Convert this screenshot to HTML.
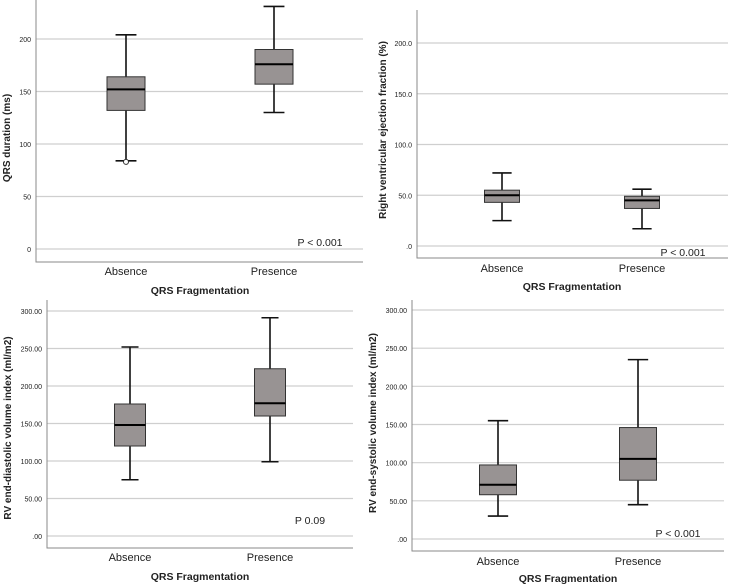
<!DOCTYPE html>
<html><head><meta charset="utf-8"><style>
html,body{margin:0;padding:0;background:#fff;width:735px;height:586px;overflow:hidden}
svg{display:block}
text{font-family:"Liberation Sans","DejaVu Sans",sans-serif;fill:#222}
</style></head><body>
<svg id="chart" width="735" height="586"></svg>
<script>
const categories = ["Absence", "Presence"];
const p1Max = [204, 231], p1Q3 = [164, 190], p1Med = [152, 176], p1Q1 = [132, 157], p1Min = [84, 130];
const p1Outliers = [[83], []];
const p1Ticks = [0, 50, 100, 150, 200];
const p1TickLabels = ["0", "50", "100", "150", "200"];
const p2Max = [72, 56], p2Q3 = [55, 49], p2Med = [50, 45], p2Q1 = [43, 37], p2Min = [25, 17];
const p2Ticks = [0, 50, 100, 150, 200];
const p2TickLabels = [".0", "50.0", "100.0", "150.0", "200.0"];
const p3Max = [252, 291], p3Q3 = [176, 223], p3Med = [148, 177], p3Q1 = [120, 160], p3Min = [75, 99];
const p3Ticks = [0, 50, 100, 150, 200, 250, 300];
const p3TickLabels = [".00", "50.00", "100.00", "150.00", "200.00", "250.00", "300.00"];
const p4Max = [155, 235], p4Q3 = [97, 146], p4Med = [71, 105], p4Q1 = [58, 77], p4Min = [30, 45];
const p4Ticks = [0, 50, 100, 150, 200, 250, 300];
const p4TickLabels = [".00", "50.00", "100.00", "150.00", "200.00", "250.00", "300.00"];

const panels = [
 {id:"qrs-duration", ax:{l:36,t:0,r:363,b:262}, y0:249, y1:39, v1:200, cx:[126,274], bw:38,
  mx:p1Max,q3:p1Q3,md:p1Med,q1:p1Q1,mn:p1Min,out:p1Outliers,ticks:p1Ticks,tl:p1TickLabels,
  title:"QRS duration (ms)", tx:6, ty:138, p:"P < 0.001", px:320, py:242, ly:271, xty:290, xtx:200},
 {id:"rv-ejection-fraction", ax:{l:417,t:10,r:728,b:258}, y0:246, y1:43, v1:200, cx:[502,642], bw:35,
  mx:p2Max,q3:p2Q3,md:p2Med,q1:p2Q1,mn:p2Min,out:[[],[]],ticks:p2Ticks,tl:p2TickLabels,
  title:"Right ventricular ejection fraction (%)", tx:382, ty:130, p:"P < 0.001", px:683, py:252, ly:268, xty:286, xtx:572},
 {id:"rv-end-diastolic", ax:{l:47,t:300,r:353,b:548}, y0:536, y1:311, v1:300, cx:[130,270], bw:31,
  mx:p3Max,q3:p3Q3,md:p3Med,q1:p3Q1,mn:p3Min,out:[[],[]],ticks:p3Ticks,tl:p3TickLabels,
  title:"RV end-diastolic volume index (ml/m2)", tx:7, ty:428, p:"P 0.09", px:310, py:520, ly:557, xty:576, xtx:200},
 {id:"rv-end-systolic", ax:{l:412,t:300,r:724,b:551}, y0:539, y1:310, v1:300, cx:[498,638], bw:37,
  mx:p4Max,q3:p4Q3,md:p4Med,q1:p4Q1,mn:p4Min,out:[[],[]],ticks:p4Ticks,tl:p4TickLabels,
  title:"RV end-systolic volume index (ml/m2)", tx:372, ty:423, p:"P < 0.001", px:678, py:533, ly:561, xty:578, xtx:568}
];
const NS="http://www.w3.org/2000/svg";
const svg=document.getElementById("chart");
function mk(tag,attrs,parent,txt){const e=document.createElementNS(NS,tag);for(const k in attrs)e.setAttribute(k,attrs[k]);if(txt!==undefined)e.textContent=txt;parent.appendChild(e);return e;}
panels.forEach(P=>{
  const g=mk("g",{},svg);
  
  
  const y=v=>P.y0+(P.y1-P.y0)*v/P.v1;
  P.ticks.forEach((t,i)=>{
    const gl=mk("line",{x1:P.ax.l,x2:P.ax.r,y1:y(t),y2:y(t),stroke:"#cfcfcf","stroke-width":1.2},g);
    
    
    const tl=mk("text",{x:P.ax.l-5,y:y(t)+3,"text-anchor":"end","font-size":7},g,P.tl[i]);
    
    
  });
  const axl=mk("polyline",{points:`${P.ax.l},${P.ax.t} ${P.ax.l},${P.ax.b} ${P.ax.r},${P.ax.b}`,fill:"none",stroke:"#8a8a8a","stroke-width":1},g);
  
  
  categories.forEach((c,i)=>{
    const cx=P.cx[i],hw=P.bw/2,cap=hw*0.55;
    const bg=mk("g",{},g);
    
    
    mk("line",{x1:cx,x2:cx,y1:y(P.mx[i]),y2:y(P.q3[i]),stroke:"#111","stroke-width":1.6},bg);
    mk("line",{x1:cx,x2:cx,y1:y(P.q1[i]),y2:y(P.mn[i]),stroke:"#111","stroke-width":1.6},bg);
    mk("line",{x1:cx-cap,x2:cx+cap,y1:y(P.mx[i]),y2:y(P.mx[i]),stroke:"#111","stroke-width":1.6},bg);
    mk("line",{x1:cx-cap,x2:cx+cap,y1:y(P.mn[i]),y2:y(P.mn[i]),stroke:"#111","stroke-width":1.6},bg);
    mk("rect",{x:cx-hw,y:y(P.q3[i]),width:P.bw,height:y(P.q1[i])-y(P.q3[i]),fill:"#989393",stroke:"#333","stroke-width":1},bg);
    mk("line",{x1:cx-hw,x2:cx+hw,y1:y(P.md[i]),y2:y(P.md[i]),stroke:"#000","stroke-width":2},bg);
    P.out[i].forEach(o=>{
      const oc=mk("circle",{cx:cx,cy:y(o),r:2.5,fill:"#fff",stroke:"#333","stroke-width":1},bg);
      
      
    });
    const xl=mk("text",{x:cx,y:P.ly+4,"text-anchor":"middle","font-size":11},g,c);
    
    
  });
  const xt=mk("text",{x:P.xtx,y:P.xty+4,"text-anchor":"middle","font-size":10.5,"font-weight":"bold"},g,"QRS Fragmentation");
  
  
  const yt=mk("text",{x:P.tx,y:P.ty,"text-anchor":"middle","font-size":10,"font-weight":"bold",transform:`rotate(-90 ${P.tx} ${P.ty})`,dy:4},g,P.title);
  
  
  const pt=mk("text",{x:P.px,y:P.py+4,"text-anchor":"middle","font-size":10.5},g,P.p);
  
  
});
</script>
</body></html>
